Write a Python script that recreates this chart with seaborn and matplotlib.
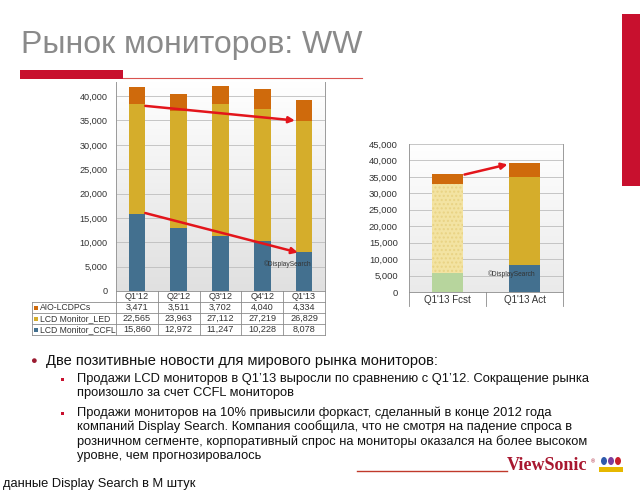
import numpy as np
import pandas as pd
import seaborn as sns
import matplotlib.pyplot as plt
from matplotlib.colors import LinearSegmentedColormap
from matplotlib.ticker import FuncFormatter, MultipleLocator
from matplotlib.patches import Rectangle, Ellipse
from matplotlib.lines import Line2D
from matplotlib.transforms import blended_transform_factory

# quarterly monitor shipments, DisplaySearch (thousand units)
quarters = ["Q1'12", "Q2'12", "Q3'12", "Q4'12", "Q1'13"]
aio = [3471, 3511, 3702, 4040, 4334]
led = [22565, 23963, 27112, 27219, 26829]
ccfl = [15860, 12972, 11247, 10228, 8078]
series_names = ['AIO-LCDPCs', 'LCD Monitor_LED', 'LCD Monitor_CCFL']

fa_cats = ["Q1'13 Fcst", "Q1'13 Act"]
fa_ccfl = [5700, 8078]
fa_led = [27250, 26829]
fa_aio = [2850, 4334]

bullet_main = 'Две позитивные новости для мирового рынка мониторов:'
bullet_lines = [
    ['Продажи LCD мониторов в Q1’13 выросли по сравнению с Q1’12. Сокращение рынка',
     'произошло за счет CCFL мониторов'],
    ['Продажи мониторов на 10% привысили форкаст, сделанный в конце 2012 года',
     'компаний Display Search. Компания сообщила, что не смотря на падение спроса в',
     'розничном сегменте, корпоративный спрос на мониторы оказался на более высоком',
     'уровне, чем прогнозировалось'],
]

C_AIO = '#CF6A0C'
C_LED = '#D5AD2B'
C_CCFL = '#43708F'
C_LED_F = '#F3E3A2'
C_CCFL_F = '#B7D59D'
RED = '#C8102E'
ARROW = '#E3151B'
GRID = '#BDBDBD'
TXT = '#333333'

W, H = 640, 494
def fx(x): return x / W
def fy(y): return 1 - y / H

plt.rcParams['font.family'] = ['Liberation Sans', 'DejaVu Sans']

fig = plt.figure(figsize=(6.4, 4.94), dpi=100)

grad = LinearSegmentedColormap.from_list('bg', ['#E0E0E0', '#FFFFFF'])
def paint_bg(ax, right, top, cmap):
    ax.imshow(np.linspace(0, 1, 256).reshape(-1, 1), cmap=cmap, aspect='auto',
              extent=[-0.5, right, 0, top], origin='lower', zorder=0)

thousands = FuncFormatter(lambda v, p: f'{v:,.0f}')

# ---- left chart: stacked by quarter
ax1 = fig.add_axes([fx(116), fy(291), (325 - 116) / W, (291 - 82) / H])
df = pd.DataFrame({'quarter': quarters, 'ccfl': ccfl, 'led': led, 'aio': aio})
df['led_top'] = df['ccfl'] + df['led']
df['total'] = df['led_top'] + df['aio']
paint_bg(ax1, 4.5, 42900, grad)
for col, c in [('total', C_AIO), ('led_top', C_LED), ('ccfl', C_CCFL)]:
    sns.barplot(data=df, x='quarter', y=col, color=c, width=0.4, saturation=1,
                linewidth=0, ax=ax1, zorder=3)
ax1.set_xlim(-0.5, 4.5)
ax1.set_ylim(0, 42900)
ax1.yaxis.set_major_locator(MultipleLocator(5000))
ax1.yaxis.set_major_formatter(thousands)
ax1.set_axisbelow(True)
ax1.grid(axis='y', color=GRID, lw=0.6)
ax1.set_xlabel('')
ax1.set_ylabel('')
ax1.set_xticklabels([])
ax1.tick_params(axis='x', length=0)
ax1.tick_params(axis='y', length=0, pad=6, labelsize=6.6, labelcolor=TXT)
ax1.spines['top'].set_visible(False)
for s in ['left', 'right', 'bottom']:
    ax1.spines[s].set_color('#9A9A9A')
    ax1.spines[s].set_linewidth(0.7)

ax1.annotate('', xy=(3.78, 35000), xytext=(0.2, 38000),
             arrowprops=dict(arrowstyle='-|>', color=ARROW, lw=1.8,
                             mutation_scale=9, shrinkA=0, shrinkB=0))
ax1.annotate('', xy=(3.85, 7900), xytext=(0.2, 16000),
             arrowprops=dict(arrowstyle='-|>', color=ARROW, lw=1.8,
                             mutation_scale=9, shrinkA=0, shrinkB=0))
ax1.text(3.6, 5500, '©DisplaySearch', fontsize=4.8, color=TXT, ha='center',
         va='center', zorder=6)

# data table under the left chart
tr = blended_transform_factory(ax1.transData, fig.transFigure)
row_edges = [291, 302, 313, 324, 335]
row_vals = [aio, led, ccfl]
row_cols = [C_AIO, C_LED, C_CCFL]
tc = '#8C8C8C'
for y in row_edges[1:]:
    fig.add_artist(Line2D([fx(32), fx(325)], [fy(y)] * 2, color=tc, lw=0.6))
fig.add_artist(Line2D([fx(32)] * 2, [fy(302), fy(335)], color=tc, lw=0.6))
for i in range(len(quarters) + 1):
    fig.add_artist(Line2D([i - 0.5] * 2, [fy(291), fy(335)], color=tc, lw=0.6,
                          transform=tr))
for i, q in enumerate(quarters):
    fig.text(i, fy(296.5), q, transform=tr, ha='center', va='center',
             fontsize=6.6, color=TXT)
for r, (name, vals, c) in enumerate(zip(series_names, row_vals, row_cols)):
    yc = (row_edges[r + 1] + row_edges[r + 2]) / 2
    fig.add_artist(Rectangle((fx(34), fy(yc + 2)), 4 / W, 4 / H,
                             transform=fig.transFigure, color=c, lw=0))
    fig.text(fx(39.5), fy(yc), name, ha='left', va='center', fontsize=6.2, color=TXT)
    for i, v in enumerate(vals):
        fig.text(i, fy(yc), f'{v:,}', transform=tr, ha='center', va='center',
                 fontsize=6.6, color=TXT)

# ---- right chart: forecast vs actual
ax2 = fig.add_axes([fx(409), fy(292), (563 - 409) / W, (292 - 144) / H])
grad2 = LinearSegmentedColormap.from_list('bg2', ['#EAEAEA', '#FFFFFF'])
paint_bg(ax2, 1.5, 45000, grad2)
fa = pd.DataFrame({'cat': fa_cats, 'ccfl': fa_ccfl, 'led': fa_led, 'aio': fa_aio})
fa['led_top'] = fa['ccfl'] + fa['led']
fa['total'] = fa['led_top'] + fa['aio']
sns.barplot(data=fa, x='cat', y='total', order=fa_cats, color=C_AIO, width=0.4,
            saturation=1, linewidth=0, ax=ax2, zorder=3)
sns.barplot(data=fa.iloc[[1]], x='cat', y='led_top', order=fa_cats, color=C_LED,
            width=0.4, saturation=1, linewidth=0, ax=ax2, zorder=3)
sns.barplot(data=fa.iloc[[0]], x='cat', y='led_top', order=fa_cats, color=C_LED_F,
            width=0.4, saturation=1, linewidth=0, edgecolor='#E9D384',
            hatch='....', ax=ax2, zorder=3)
sns.barplot(data=fa.iloc[[1]], x='cat', y='ccfl', order=fa_cats, color=C_CCFL,
            width=0.4, saturation=1, linewidth=0, ax=ax2, zorder=3)
sns.barplot(data=fa.iloc[[0]], x='cat', y='ccfl', order=fa_cats, color=C_CCFL_F,
            width=0.4, saturation=1, linewidth=0, ax=ax2, zorder=3)
ax2.set_xlim(-0.5, 1.5)
ax2.set_ylim(0, 45000)
ax2.yaxis.set_major_locator(MultipleLocator(5000))
ax2.yaxis.set_major_formatter(thousands)
ax2.set_axisbelow(True)
ax2.grid(axis='y', color=GRID, lw=0.6)
ax2.set_xlabel('')
ax2.set_ylabel('')
ax2.tick_params(axis='x', length=0, pad=2.5, labelsize=7, labelcolor=TXT)
ax2.tick_params(axis='y', length=0, pad=8, labelsize=6.8, labelcolor=TXT)
for s in ['left', 'right', 'bottom', 'top']:
    ax2.spines[s].set_color('#9A9A9A')
    ax2.spines[s].set_linewidth(0.7)
ax2.spines['top'].set_visible(False)
tr2 = blended_transform_factory(ax2.transData, fig.transFigure)
for xv in [-0.5, 0.5, 1.5]:
    fig.add_artist(Line2D([xv] * 2, [fy(292), fy(306)], color=tc, lw=0.6,
                          transform=tr2))
ax2.annotate('', xy=(0.78, 38800), xytext=(0.22, 35700),
             arrowprops=dict(arrowstyle='-|>', color=ARROW, lw=1.8,
                             mutation_scale=9, shrinkA=0, shrinkB=0))
ax2.text(0.84, 5400, '©DisplaySearch', fontsize=4.8, color=TXT, ha='center',
         va='center', zorder=6)

# ---- slide decorations
fig.text(fx(21), fy(53), 'Рынок мониторов: WW', fontsize=23, color='#8A8A8A',
         va='baseline')
fig.add_artist(Rectangle((fx(20), fy(79)), 103 / W, 9 / H,
                         transform=fig.transFigure, color=RED, lw=0))
fig.add_artist(Line2D([fx(123), fx(362)], [fy(78.5)] * 2, color='#D9534F', lw=0.8))
fig.add_artist(Rectangle((fx(622), fy(186)), 18 / W, 172 / H,
                         transform=fig.transFigure, color=RED, lw=0))

# bullets
fig.text(fx(33), fy(361), '●', color='#9B1B30', fontsize=8, ha='center', va='center')
fig.text(fx(46), fy(361), bullet_main, fontsize=10.5, va='center', color='#111111')
line_y = [[379, 393], [413, 427, 442, 456]]
for lines, ys in zip(bullet_lines, line_y):
    fig.add_artist(Rectangle((fx(60.5), fy(ys[0] + 1.5)), 3 / W, 3 / H,
                             transform=fig.transFigure, color=RED, lw=0))
    for t, y in zip(lines, ys):
        fig.text(fx(77), fy(y), t, fontsize=9.3, va='center', color='#111111')

fig.text(fx(3), fy(484), 'данные Display Search в М штук', fontsize=9.3,
         va='center', color='#111111')

# ViewSonic mark
fig.add_artist(Line2D([fx(357), fx(507)], [fy(471)] * 2, color='#C0392B', lw=1))
fig.text(fx(507), fy(465), 'ViewSonic', family='Liberation Serif', weight='bold',
         color='#A8172F', fontsize=13, va='center')
fig.text(fx(591), fy(462), '®', fontsize=4, color='#A8172F', va='center')
for bx, c in [(604, '#2E5AAC'), (611, '#7B3F9E'), (618, '#C8202C')]:
    fig.add_artist(Ellipse((fx(bx), fy(461)), 6 / W, 8 / H,
                           transform=fig.transFigure, color=c, lw=0))
fig.add_artist(Rectangle((fx(599), fy(472)), 24 / W, 5 / H,
                         transform=fig.transFigure, color='#E6B800', lw=0))

fig.savefig('out.png', dpi=100)
